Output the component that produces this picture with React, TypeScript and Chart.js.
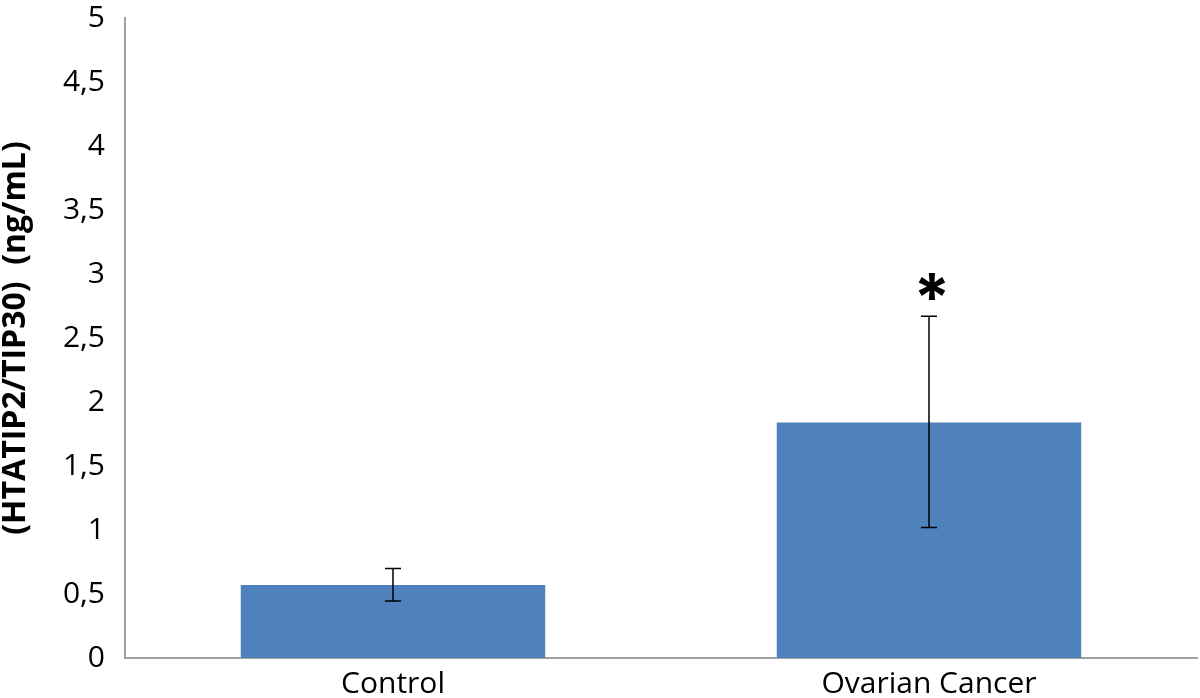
import React, { useEffect, useRef } from "react";
import { Chart, registerables } from "chart.js";

Chart.register(...registerables);

const categories = ["Control", "Ovarian Cancer"];
const means = [0.57, 1.84];
const errLow = [0.445, 1.02];
const errHigh = [0.7, 2.67];
const significance = ["", "*"];
const yTickValues = [0, 0.5, 1, 1.5, 2, 2.5, 3, 3.5, 4, 4.5, 5];
const yTickLabels = ["0", "0,5", "1", "1,5", "2", "2,5", "3", "3,5", "4", "4,5", "5"];
const yTitle = "(HTATIP2/TIP30)  (ng/mL)";

const FONT = "'Open Sans', 'DejaVu Sans', sans-serif";

const errorBarPlugin = {
  id: "errorBars",
  afterDatasetsDraw(chart: any) {
    const ctx = chart.ctx;
    const meta = chart.getDatasetMeta(0);
    const y = chart.scales.y;
    ctx.save();
    meta.data.forEach((bar: any, i: number) => {
      const x = bar.x;
      const yl = y.getPixelForValue(errLow[i]);
      const yh = y.getPixelForValue(errHigh[i]);
      ctx.strokeStyle = "#000";
      ctx.lineWidth = 1.5;
      ctx.beginPath();
      ctx.moveTo(x, yl);
      ctx.lineTo(x, yh);
      ctx.moveTo(x - 8, yl);
      ctx.lineTo(x + 8, yl);
      ctx.moveTo(x - 8, yh);
      ctx.lineTo(x + 8, yh);
      ctx.stroke();
      const s = significance[i];
      if (s) {
        ctx.font = "bold 66px Inter, 'DejaVu Sans', sans-serif";
        ctx.fillStyle = "#000";
        ctx.textAlign = "center";
        ctx.textBaseline = "alphabetic";
        const m = ctx.measureText(s);
        const desc = m.actualBoundingBoxDescent;
        const targetBottom = yh - 15;
        ctx.fillText(s, x + 3, targetBottom - desc);
      }
    });
    ctx.restore();
  },
};

export default function App() {
  const ref = useRef<HTMLCanvasElement | null>(null);
  useEffect(() => {
    document.body.style.margin = "0";
    const chart = new Chart(ref.current as HTMLCanvasElement, {
      type: "bar",
      data: {
        labels: categories,
        datasets: [
          {
            data: means,
            backgroundColor: "#4F81BD",
            borderWidth: 0,
            categoryPercentage: 1,
            barPercentage: 0.568,
          },
        ],
      },
      options: {
        animation: false,
        responsive: false,
        maintainAspectRatio: false,
        layout: { padding: { top: 18, right: 3, left: 0, bottom: 0 } },
        plugins: { legend: { display: false }, tooltip: { enabled: false } },
        scales: {
          x: {
            grid: { display: false, drawTicks: false },
            border: { display: true, color: "#A0A0A0", width: 2 },
            ticks: {
              color: "#000",
              font: { family: FONT, size: 30 },
              padding: 8,
            },
            afterFit(scale: any) {
              scale.height = 40;
            },
          },
          y: {
            min: 0,
            max: 5,
            afterBuildTicks(scale: any) {
              scale.ticks = yTickValues.map((v) => ({ value: v }));
            },
            grid: { display: false, drawTicks: false },
            border: { display: true, color: "#A0A0A0", width: 2 },
            ticks: {
              color: "#000",
              font: { family: FONT, size: 30 },
              padding: 20,
              callback: (_v: any, i: number) => yTickLabels[i],
            },
            title: {
              display: true,
              text: yTitle,
              color: "#000",
              font: { family: FONT, size: 32, weight: "bold", lineHeight: 1 },
              padding: { top: 0, bottom: 0 },
            },
            afterFit(scale: any) {
              scale.width = 125;
              scale.paddingTop = 0;
              scale.paddingBottom = 0;
            },
          },
        },
      },
      plugins: [errorBarPlugin],
    } as any);
    return () => chart.destroy();
  }, []);
  return (
    <div style={{ width: 1200, height: 698 }}>
      <canvas ref={ref} width={1200} height={698} style={{ display: "block" }} />
    </div>
  );
}
